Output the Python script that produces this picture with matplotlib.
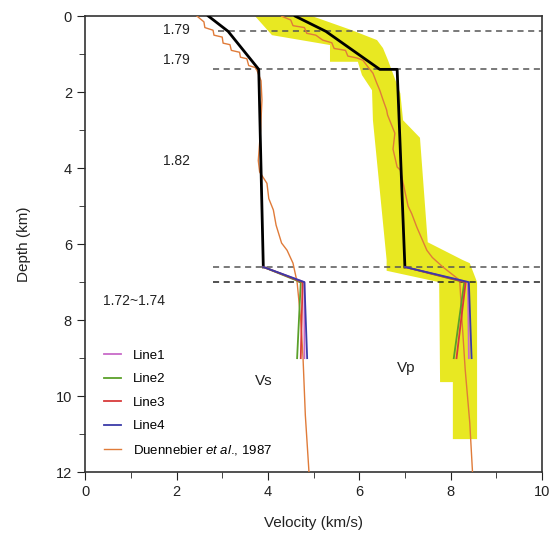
import matplotlib
matplotlib.use("Agg")
import matplotlib.pyplot as plt
from matplotlib.ticker import MultipleLocator

plt.rcParams['font.family'] = ['Liberation Sans', 'DejaVu Sans']
plt.rcParams['mathtext.fontset'] = 'custom'
plt.rcParams['mathtext.it'] = 'Liberation Sans:italic'
plt.rcParams['mathtext.rm'] = 'Liberation Sans'

# layer boundaries (km)
boundary_depths = [0.4, 1.4, 6.6, 7.0]
boundary_xstart = [2.9, 2.8, 2.8, 2.8]
boundary_colors = ["#555555", "#555555", "#555555", "#222222"]

# starting model (black)
vs_model_v = [2.7, 3.13, 3.8, 3.9]
vs_model_d = [0.0, 0.4, 1.4, 6.6]
vp_model_v = [4.6, 5.27, 6.45, 6.83, 7.0]
vp_model_d = [0.0, 0.4, 1.4, 1.4, 6.6]

# lower crust results per line: velocity at 6.6, 7.0, 9.0 km
line_depths = [6.6, 7.0, 9.0]
line_names = ["Line1", "Line2", "Line3", "Line4"]
line_colors = ["#c86ac8", "#5aa02a", "#d83a3a", "#3a3aa8"]
vs_lines = [[3.9, 4.8, 4.8], [3.9, 4.72, 4.64], [3.9, 4.76, 4.72], [3.9, 4.8, 4.86]]
vp_lines = [[7.0, 8.38, 8.4], [7.0, 8.3, 8.07], [7.0, 8.33, 8.13], [7.0, 8.4, 8.46]]

# Duennebier et al., 1987
dn_vs_v = [2.45, 2.6, 2.62, 2.8, 2.82, 3.0, 3.02, 3.17, 3.2, 3.38, 3.4, 3.54, 3.58,
           3.72, 3.76, 3.85, 3.87, 3.84, 3.79, 3.82, 3.98, 4.02, 4.12, 4.18, 4.3,
           4.42, 4.55, 4.64, 4.72, 4.77, 4.82, 4.9]
dn_vs_d = [0.0, 0.15, 0.3, 0.37, 0.5, 0.55, 0.71, 0.75, 0.9, 0.95, 1.08, 1.12, 1.3,
           1.35, 1.42, 1.7, 2.2, 3.0, 3.8, 4.1, 4.4, 4.8, 5.1, 5.5, 5.97, 6.16,
           6.5, 7.0, 8.0, 9.0, 10.5, 12.0]
dn_vp_v = [4.3, 4.5, 4.55, 4.8, 4.85, 5.05, 5.2, 5.4, 5.45, 5.7, 5.75, 5.95, 6.08,
           6.2, 6.3, 6.38, 6.45, 6.52, 6.6, 6.62, 6.78, 6.74, 6.83, 6.9, 7.07, 7.15,
           7.26, 7.35, 7.48, 7.6, 7.83, 8.2, 8.25, 8.32, 8.42, 8.48]
dn_vp_d = [0.0, 0.1, 0.25, 0.3, 0.45, 0.5, 0.63, 0.7, 0.85, 0.9, 1.05, 1.1, 1.16,
           1.35, 1.5, 1.75, 1.95, 2.2, 2.47, 2.6, 3.08, 3.5, 3.97, 4.05, 5.0, 5.2,
           5.55, 5.8, 6.16, 6.35, 6.6, 6.95, 8.0, 9.3, 10.7, 12.0]

# Vp uncertainty band (yellow)
band_v = [3.72, 4.09, 5.36, 5.36, 5.97, 6.06, 6.28, 6.3, 6.6, 6.6, 7.75, 7.77, 8.05,
          8.05, 8.58, 8.58, 8.42, 8.27, 7.5, 7.48, 7.33, 6.96, 6.9, 6.63, 6.52,
          6.39, 5.84, 4.97]
band_d = [0.0, 0.5, 0.76, 1.2, 1.2, 1.55, 1.95, 2.74, 6.42, 6.7, 7.0, 9.63, 9.63,
          11.13, 11.13, 7.0, 6.5, 6.42, 5.95, 5.63, 3.2, 2.74, 2.03, 1.16, 0.84,
          0.63, 0.37, 0.0]

ratio_labels = ["1.79", "1.79", "1.82", "1.72~1.74"]
ratio_x = [1.7, 1.7, 1.7, 0.4]
ratio_d = [0.37, 1.16, 3.8, 7.5]

fig = plt.figure(figsize=(5.53, 5.39), dpi=100)
ax = fig.add_axes([0.154, 0.124, 0.826, 0.846])

ax.fill(band_v, band_d, color="#e8e822", lw=0, zorder=1)

for d, x0, c in zip(boundary_depths, boundary_xstart, boundary_colors):
    ax.plot([x0, 10], [d, d], ls=(0, (4, 3)), color=c, lw=1.1, zorder=2)

ax.plot(dn_vs_v, dn_vs_d, color="#e07b39", lw=1.0, zorder=3)
dn, = ax.plot(dn_vp_v, dn_vp_d, color="#e07b39", lw=1.0, zorder=3,
              label=r"Duennebier $\mathit{et\ al}$., 1987")

ax.plot(vs_model_v, vs_model_d, color="black", lw=2, zorder=4)
ax.plot(vp_model_v, vp_model_d, color="black", lw=2, zorder=4)

handles = []
for name, c, vs, vp in zip(line_names, line_colors, vs_lines, vp_lines):
    h, = ax.plot(vs, line_depths, color=c, lw=1.3, zorder=5, label=name)
    ax.plot(vp, line_depths, color=c, lw=1.3, zorder=5)
    handles.append(h)
handles.append(dn)

for t, x, d in zip(ratio_labels, ratio_x, ratio_d):
    ax.text(x, d, t, fontsize=10, va="center", ha="left", color="#222222")
ax.text(3.72, 9.6, "Vs", fontsize=11, va="center", color="#222222")
ax.text(6.82, 9.25, "Vp", fontsize=11, va="center", color="#222222")

ax.legend(handles=handles, loc="lower left", bbox_to_anchor=(0.02, 0.012),
          frameon=False, fontsize=9.5, handlelength=1.3, handletextpad=0.9,
          labelspacing=0.85, borderaxespad=0.3)

ax.set_xlim(0, 10)
ax.set_ylim(12, 0)
ax.xaxis.set_major_locator(MultipleLocator(2))
ax.xaxis.set_minor_locator(MultipleLocator(1))
ax.yaxis.set_major_locator(MultipleLocator(2))
ax.yaxis.set_minor_locator(MultipleLocator(1))
ax.tick_params(which="major", length=6, labelsize=10.5, colors="#222222")
ax.tick_params(which="minor", length=4, colors="#222222")
for s in ax.spines.values():
    s.set_color("#333333")
    s.set_linewidth(1.2)
ax.set_xlabel("Velocity (km/s)", fontsize=11, color="#222222", labelpad=12)
ax.set_ylabel("Depth (km)", fontsize=11, color="#222222", labelpad=18)

fig.savefig("out.png", dpi=100)
